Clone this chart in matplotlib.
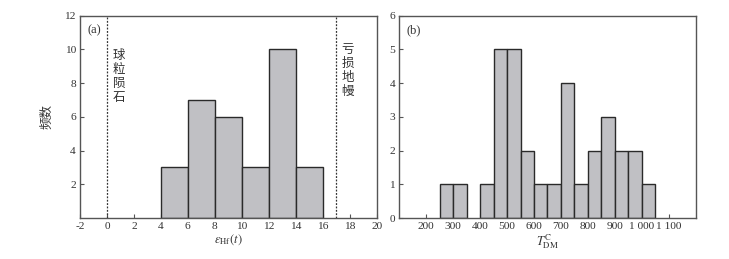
import matplotlib.pyplot as plt

plt.rcParams['font.family'] = ['Liberation Serif', 'Noto Sans CJK SC']
plt.rcParams['mathtext.fontset'] = 'stix'
plt.rcParams['axes.unicode_minus'] = False

# (a) epsilon Hf(t) histogram
hf_edges = [4, 6, 8, 10, 12, 14]
hf_counts = [3, 7, 6, 3, 10, 3]
hf_width = 2
hf_xticks = [-2, 0, 2, 4, 6, 8, 10, 12, 14, 16, 18, 20]
hf_yticks = [2, 4, 6, 8, 10, 12]
chondrite_x = 0
depleted_x = 17

# (b) T_DM^C histogram
tdm_edges = [250, 300, 400, 450, 500, 550, 600, 650, 700, 750, 800, 850, 900, 950, 1000]
tdm_counts = [1, 1, 1, 5, 5, 2, 1, 1, 4, 1, 2, 3, 2, 2, 1]
tdm_width = 50
tdm_xticks = [200, 300, 400, 500, 600, 700, 800, 900, 1000, 1100]
tdm_xlabels = ['200', '300', '400', '500', '600', '700', '800', '900', '1 000', '1 100']
tdm_yticks = [0, 1, 2, 3, 4, 5, 6]

bar_color = '#c0c0c4'
edge_color = '#2a2a2a'
spine_color = '#555555'
text_color = '#333333'

fig = plt.figure(figsize=(7.29, 2.59), dpi=100)
ax1 = fig.add_axes([0.1097, 0.1583, 0.407, 0.781])
ax2 = fig.add_axes([0.5477, 0.1583, 0.4066, 0.781])

for ax in (ax1, ax2):
    for s in ax.spines.values():
        s.set_color(spine_color)
        s.set_linewidth(1.0)
    ax.tick_params(direction='in', length=3, width=0.8, color=spine_color,
                   labelsize=8.2, pad=3, labelcolor=text_color)

# Panel a
ax1.bar(hf_edges, hf_counts, width=hf_width, align='edge', color=bar_color,
        edgecolor=edge_color, linewidth=1.0, zorder=2)
ax1.axvline(chondrite_x, color=text_color, linestyle=(0, (1.5, 1.2)), linewidth=0.9)
ax1.axvline(depleted_x, color=text_color, linestyle=(0, (1.5, 1.2)), linewidth=0.9)
ax1.set_xlim(-2, 20)
ax1.set_ylim(0, 12)
ax1.set_xticks(hf_xticks)
ax1.set_yticks(hf_yticks)
ax1.set_xlabel(r'$\varepsilon_{\mathrm{Hf}}(t)$', fontsize=9, labelpad=1, color=text_color)
ax1.set_ylabel('频数', family='Noto Sans CJK SC', fontsize=9, color=text_color, labelpad=8)
ax1.text(0.025, 0.96, '(a)', transform=ax1.transAxes, ha='left', va='top',
         fontsize=9, color=text_color)
ax1.text(0.85, 10.0, '球\n粒\n陨\n石', family='Noto Sans CJK SC', fontsize=9,
         ha='center', va='top', linespacing=1.1, color=text_color)
ax1.text(17.85, 10.4, '亏\n损\n地\n幔', family='Noto Sans CJK SC', fontsize=9,
         ha='center', va='top', linespacing=1.1, color=text_color)

# Panel b
ax2.bar(tdm_edges, tdm_counts, width=tdm_width, align='edge', color=bar_color,
        edgecolor=edge_color, linewidth=1.0, zorder=2)
ax2.set_xlim(100, 1200)
ax2.set_ylim(0, 6)
ax2.set_xticks(tdm_xticks)
ax2.set_xticklabels(tdm_xlabels)
ax2.set_yticks(tdm_yticks)
ax2.set_xlabel(r'$T_{\mathrm{DM}}^{\mathrm{C}}$', fontsize=9, labelpad=1, color=text_color)
ax2.text(0.025, 0.96, '(b)', transform=ax2.transAxes, ha='left', va='top',
         fontsize=9, color=text_color)

fig.savefig('out.png', dpi=100)
